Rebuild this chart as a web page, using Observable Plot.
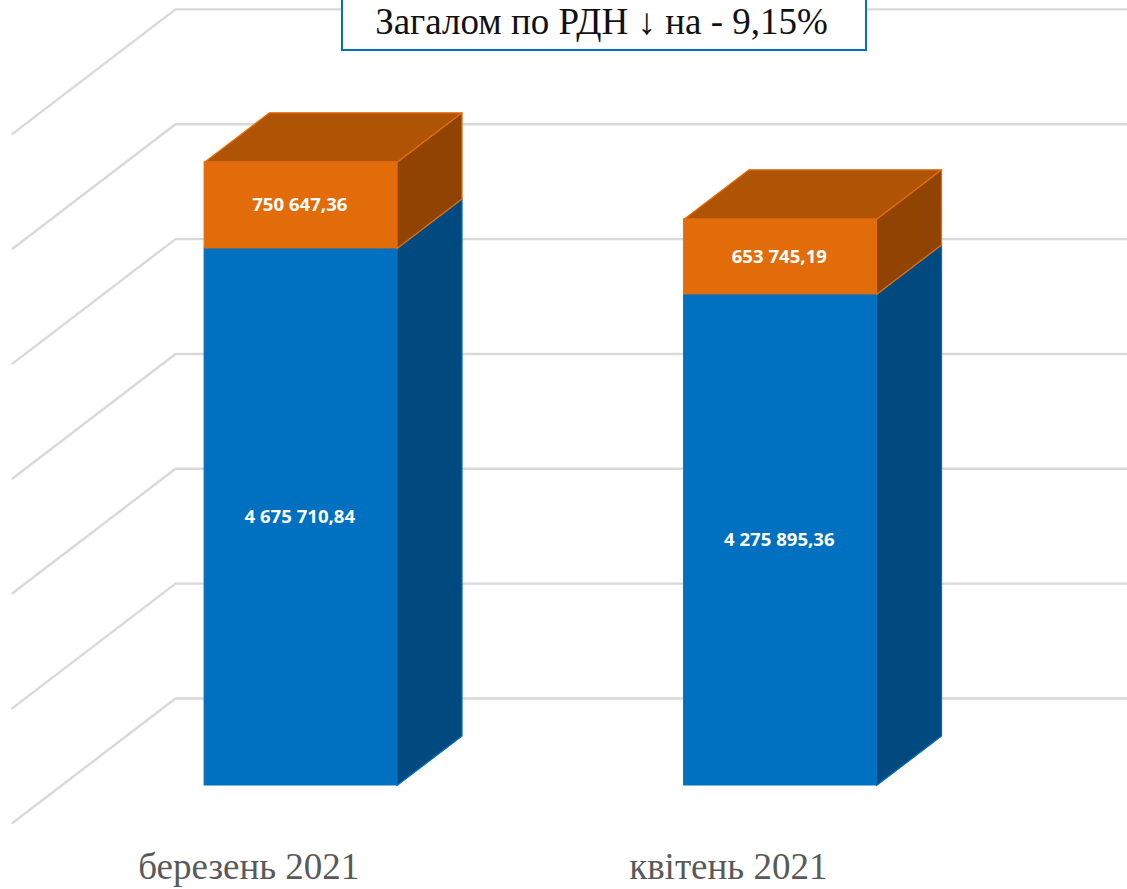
<!DOCTYPE html>
<html><head><meta charset="utf-8">
<script src="https://cdn.jsdelivr.net/npm/d3@7"></script>
<script src="https://cdn.jsdelivr.net/npm/@observablehq/plot@0.6"></script>
<style>
html,body{margin:0;padding:0;background:#fff;overflow:hidden}
#wrap{position:relative;width:1127px;height:889px;overflow:hidden}
#box{position:absolute;left:341px;top:-12px;width:522px;height:59px;border:2px solid #0070C0;background:#fff;
 font:37px "Liberation Serif",serif;color:#111;text-align:center;line-height:63px;white-space:nowrap;text-indent:-5px}
svg{display:block}
</style></head><body>
<div id="wrap"><div id="chart"></div><div id="box"></div></div>
<script>
const titleText = "Загалом по РДН ↓ на - 9,15%";
const categories = ["березень 2021", "квітень 2021"];
const blueValues = [4675710.84, 4275895.36];
const orangeValues = [750647.36, 653745.19];
const blueLabels = ["4 675 710,84", "4 275 895,36"];
const orangeLabels = ["750 647,36", "653 745,19"];
const gridTicks = [0, 1000000, 2000000, 3000000, 4000000, 5000000, 6000000];

// Scale set-up: x unit = one category step, y unit = value
const pxX = 479.5, pxY = 114.85 / 1e6;
const x0 = 300.3, y0 = 785;
const W = 1127, H = 889;
const xDomain = [(0 - x0) / pxX, (W - x0) / pxX];
const yDomain = [(y0 - H) / pxY, y0 / pxY];
// Oblique projection offsets in scale units
const halfBar = 96.2 / pxX;
const depthX = 65 / pxX, depthY = 49.5 / pxY;
const wallX = (175 - x0) / pxX, wallLift = 87 / pxY;
const wallFrontX = (12 - x0) / pxX, wallFrontLift = -37.5 / pxY;
const labelShift = -52 / pxX, labelY = (y0 - 867) / pxY;

const bars = categories.map((c, i) => ({
  i, c, blue: blueValues[i], orange: orangeValues[i], total: blueValues[i] + orangeValues[i],
  l: i - halfBar, r: i + halfBar
}));
const poly = (id, pts) => [...pts, pts[0]].map(([x, y]) => ({id, x, y}));
const blueSide = bars.flatMap(b => poly(b.i, [[b.r, 0], [b.r + depthX, depthY], [b.r + depthX, b.blue + depthY], [b.r, b.blue]]));
const orangeSide = bars.flatMap(b => poly(b.i, [[b.r, b.blue], [b.r + depthX, b.blue + depthY], [b.r + depthX, b.total + depthY], [b.r, b.total]]));
const orangeTop = bars.flatMap(b => poly(b.i, [[b.l, b.total], [b.r, b.total], [b.r + depthX, b.total + depthY], [b.l + depthX, b.total + depthY]]));
const grid = gridTicks.flatMap(v => [
  {v, x: wallFrontX, y: v + wallFrontLift},
  {v, x: wallX, y: v + wallLift},
  {v, x: xDomain[1], y: v + wallLift}
]);

const face = (data, fill, stroke) => Plot.line(data, {x: "x", y: "y", z: "id", fill, stroke, strokeWidth: 1.3, strokeLinejoin: "round"});
const labelFont = {fontFamily: "'Open Sans',sans-serif", fontWeight: 700, fontSize: 18.6, fill: "#fff"};

const chart = Plot.plot({
  width: W, height: H, margin: 0,
  x: {domain: xDomain, range: [0, W], axis: null},
  y: {domain: yDomain, range: [H, 0], axis: null},
  style: {background: "#fff"},
  marks: [
    Plot.line(grid, {x: "x", y: "y", z: "v", stroke: "#D9D9D9", strokeWidth: 2.4, strokeLinejoin: "round"}),
    face(blueSide, "#004A7F", "#0070C0"),
    Plot.rect(bars, {x1: "l", x2: "r", y1: 0, y2: "blue", fill: "#0070C0", stroke: "#0070C0", strokeWidth: 1}),
    face(orangeSide, "#914303", "#E36C0A"),
    face(orangeTop, "#AF5304", "#E36C0A"),
    Plot.rect(bars, {x1: "l", x2: "r", y1: "blue", y2: "total", fill: "#E36C0A", stroke: "#E36C0A", strokeWidth: 1}),
    Plot.text(bars, {x: d => d.i - 1 / pxX, y: d => d.blue / 2, dy: 0.5, text: d => blueLabels[d.i], ...labelFont}),
    Plot.text(bars, {x: d => d.i - 1 / pxX, y: d => d.blue + d.orange / 2, text: d => orangeLabels[d.i], ...labelFont}),
    Plot.text(bars, {x: d => d.i + labelShift, y: labelY, text: "c", fontFamily: "'Liberation Serif',serif", fontSize: 37, fill: "#595959"})
  ]
});
document.getElementById("chart").append(chart);
document.getElementById("box").textContent = titleText;
</script>
</body></html>
